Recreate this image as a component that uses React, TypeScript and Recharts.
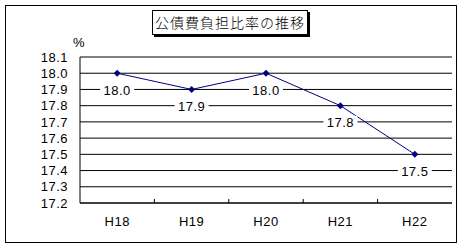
import React from "react"
import {
  LineChart,
  Line,
  XAxis,
  YAxis,
  CartesianGrid,
  LabelList,
} from "recharts"

// ─── Data ──────────────────────────────────────────────────────────────────────

const years = ["H18", "H19", "H20", "H21", "H22"]
const ratio = [18.0, 17.9, 18.0, 17.8, 17.5]
const yTicks = [17.2, 17.3, 17.4, 17.5, 17.6, 17.7, 17.8, 17.9, 18.0, 18.1]

const data = years.map((name, i) => ({ name, value: ratio[i] }))

const FONT = '"Liberation Sans", Arial, sans-serif'
const LINE_COLOR = "#000080"
const TICK_MARGIN = 14

// ─── Marks ─────────────────────────────────────────────────────────────────────

function Diamond({ cx, cy }: { cx?: number; cy?: number }) {
  if (cx == null || cy == null) return null
  const r = 3.5
  return (
    <polygon
      points={`${cx},${cy - r} ${cx + r},${cy} ${cx},${cy + r} ${cx - r},${cy}`}
      fill={LINE_COLOR}
    />
  )
}

function ValueLabel(props: any) {
  const { x, y, value } = props
  if (x == null || y == null) return null
  const cy = y + 17
  return (
    <g>
      <rect x={x - 17} y={cy - 7} width={34} height={14} fill="#fff" />
      <text
        x={x}
        y={cy}
        textAnchor="middle"
        dominantBaseline="central"
        fontFamily={FONT}
        fontSize={13}
        letterSpacing={0.5}
        fill="#000"
      >
        {Number(value).toFixed(1)}
      </text>
    </g>
  )
}

function YearTick(props: any) {
  const { x, y, payload, index } = props
  const half = payload?.offset ?? 0
  const axisY = y - TICK_MARGIN
  return (
    <g>
      {index > 0 && (
        <line x1={x - half} x2={x - half} y1={axisY} y2={axisY - 4} stroke="#000" />
      )}
      <text
        x={x}
        y={y}
        dy="0.71em"
        textAnchor="middle"
        fontFamily={FONT}
        fontSize={13}
        letterSpacing={0.5}
        fill="#000"
      >
        {payload.value}
      </text>
    </g>
  )
}

// ─── Chart ─────────────────────────────────────────────────────────────────────

export default function App() {
  return (
    <div style={{ position: "absolute", left: 0, top: 0, width: 465, height: 248, background: "#fff" }}>
      <div
        style={{
          position: "absolute",
          left: 5,
          top: 5,
          width: 450,
          height: 236,
          border: "1px solid #000",
        }}
      />
      <div
        style={{
          position: "absolute",
          left: 152,
          top: 10,
          width: 154,
          height: 23,
          border: "1px solid #000",
          boxShadow: "2px 2px 0 #000",
          background: "#fff",
          fontFamily: '"Noto Sans CJK JP", sans-serif',
          fontWeight: 300,
          fontSize: 14,
          letterSpacing: 1,
          lineHeight: "23px",
          textAlign: "center",
          whiteSpace: "nowrap",
          zIndex: 2,
        }}
      >
        公債費負担比率の推移
      </div>
      <div
        style={{
          position: "absolute",
          left: 73,
          top: 35,
          fontFamily: FONT,
          fontSize: 13,
          zIndex: 2,
        }}
      >
        %
      </div>
      <div style={{ position: "absolute", left: 0, top: 0 }}>
        <LineChart
          width={465}
          height={248}
          data={data}
          margin={{ top: 57, right: 13, left: 20, bottom: 15 }}
        >
          <CartesianGrid vertical={false} stroke="#000" strokeOpacity={1} />
          <XAxis
            dataKey="name"
            scale="band"
            height={30}
            axisLine={{ stroke: "#000" }}
            tickLine={false}
            tickSize={0}
            tickMargin={TICK_MARGIN}
            tick={<YearTick />}
            interval={0}
          />
          <XAxis
            xAxisId="top"
            dataKey="name"
            orientation="top"
            height={0}
            tick={false}
            tickLine={false}
            axisLine={{ stroke: "#808080" }}
          />
          <YAxis
            domain={[17.2, 18.1]}
            ticks={yTicks}
            width={60}
            axisLine={{ stroke: "#000" }}
            tickLine={false}
            tickSize={0}
            tickMargin={12}
            interval={0}
            tickFormatter={(v: number) => v.toFixed(1)}
            tick={{ fill: "#000", fontSize: 13, fontFamily: FONT, letterSpacing: 0.5 }}
          />
          <YAxis
            yAxisId="right"
            orientation="right"
            width={0}
            tick={false}
            tickLine={false}
            axisLine={{ stroke: "#808080" }}
          />
          <Line
            dataKey="value"
            stroke={LINE_COLOR}
            strokeWidth={1}
            dot={<Diamond />}
            activeDot={false}
            isAnimationActive={false}
          >
            <LabelList dataKey="value" content={<ValueLabel />} />
          </Line>
        </LineChart>
      </div>
    </div>
  )
}
